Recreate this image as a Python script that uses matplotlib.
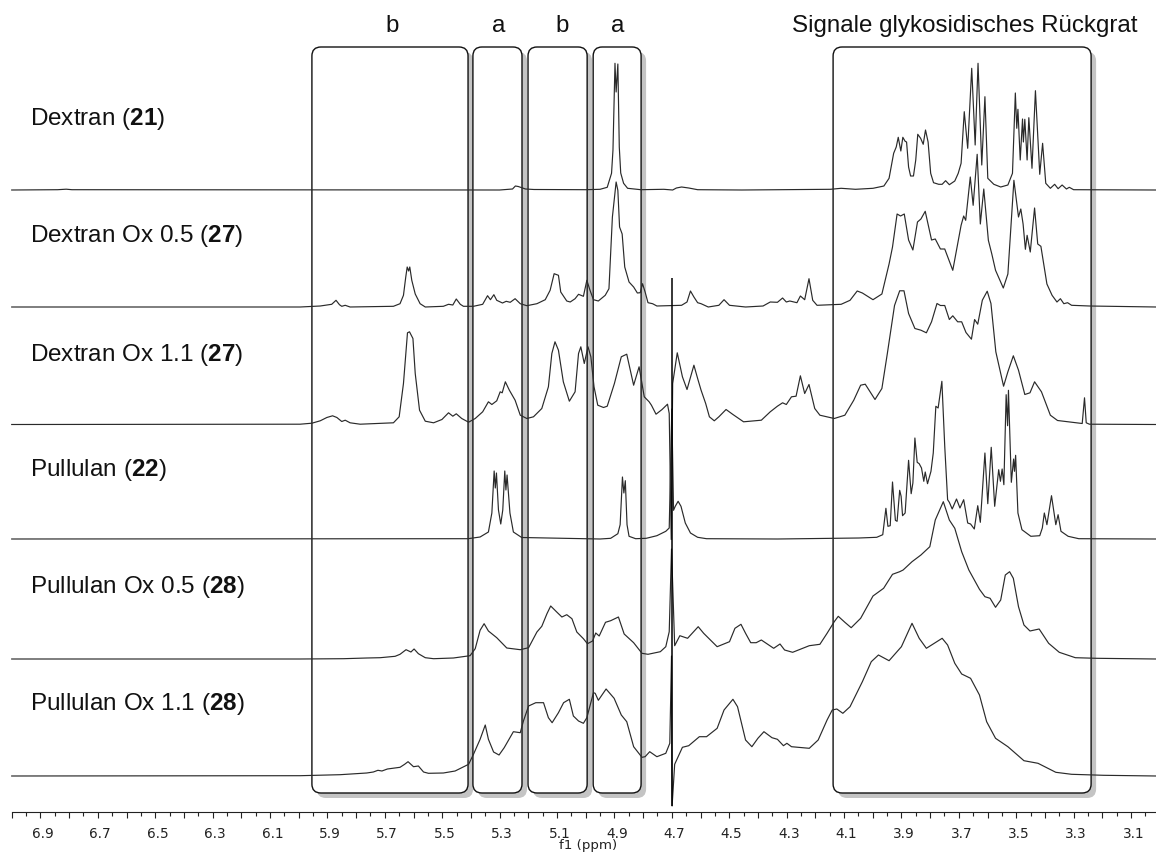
import matplotlib
matplotlib.use('Agg')
import matplotlib.pyplot as plt
from matplotlib.patches import FancyBboxPatch
from matplotlib.transforms import IdentityTransform, ScaledTranslation
from matplotlib.ticker import MultipleLocator
import numpy as np

plt.rcParams['font.family'] = ['Liberation Sans', 'DejaVu Sans']
plt.rcParams['mathtext.fontset'] = 'custom'
plt.rcParams['mathtext.rm'] = 'Liberation Sans'
plt.rcParams['mathtext.bf'] = 'Liberation Sans:bold'
plt.rcParams['mathtext.default'] = 'regular'

# (ppm, intensity)
dextran = [(7.0,0),(6.84,.3),(6.81,.8),(6.79,.3),(5.30,0),(5.255,1),(5.245,4),(5.235,3.5),(5.225,2.5),(5.21,1),(5.18,.5),(5.0,.3),
    (4.950,.7),(4.925,2.7),(4.910,16.7),(4.905,40),(4.898,126.7),(4.894,98),(4.888,126),(4.883,43),(4.878,17),(4.868,6.7),(4.854,1.7),
    (4.808,.3),(4.728,.7),(4.697,0),(4.684,2),(4.666,3),(4.641,2),(4.610,.3),(4.456,0),(4.147,.7),(4.11,1.7),(4.06,.7),(3.999,1.7),
    (3.961,4),(3.943,11.7),(3.927,36.7),(3.918,43),(3.911,52.7),(3.902,39),(3.895,52.7),(3.887,48.7),(3.882,48),(3.875,23),(3.868,14),
    (3.858,14),(3.850,30),(3.843,55.7),(3.833,51.7),(3.824,45.7),(3.816,60),(3.807,48),(3.798,16.7),(3.788,7.3),(3.770,5.7),(3.758,5.7),
    (3.746,9.3),(3.733,5.3),(3.714,9),(3.702,16.7),(3.692,26.7),(3.681,78.3),(3.669,41.7),(3.655,121.7),(3.643,45),(3.633,126.7),
    (3.620,25),(3.609,93.3),(3.599,11.7),(3.578,5.7),(3.554,3),(3.529,5),(3.513,16.7),(3.503,97),(3.498,61.7),(3.494,80.7),(3.486,30),
    (3.478,71),(3.475,48),(3.470,70.7),(3.462,30),(3.456,72.3),(3.445,21.7),(3.433,99.3),(3.418,15.7),(3.408,46.7),(3.397,6.7),
    (3.381,1.7),(3.366,5.7),(3.354,1.3),(3.340,5),(3.325,1),(3.315,2.7),(3.300,.3),(3.012,0)]

dextran_ox05 = [(7.0,0),(5.995,0),(5.925,1),(5.885,2.7),(5.870,6.7),(5.858,2.3),(5.850,.7),(5.838,1.7),(5.821,0),(5.670,.7),(5.647,3.3),
    (5.635,11.7),(5.627,30),(5.622,40),(5.617,36),(5.613,40),(5.606,26.7),(5.594,13),(5.577,3.3),(5.559,0),(5.496,.7),(5.478,2.7),
    (5.463,2),(5.451,8),(5.437,2.7),(5.426,.7),(5.391,.7),(5.359,2.7),(5.342,11.3),(5.332,7.3),(5.320,12.3),(5.310,6.7),(5.290,4),
    (5.277,5.7),(5.263,4.7),(5.246,8.3),(5.228,3.3),(5.205,1.3),(5.170,3.3),(5.141,7.3),(5.124,16.7),(5.110,33.3),(5.095,31.7),
    (5.087,15),(5.066,6),(5.054,5),(5.037,8.3),(5.025,12.7),(5.008,10.7),(4.996,26.7),(4.985,16.7),(4.973,7.3),(4.956,6),(4.932,11.7),
    (4.919,18.3),(4.907,90),(4.894,125),(4.888,116.7),(4.882,80),(4.873,73),(4.864,40),(4.849,25),(4.833,20),(4.820,14),(4.810,14.3),
    (4.802,23.3),(4.793,15),(4.783,4.3),(4.767,3.3),(4.752,1),(4.666,1.7),(4.647,5),(4.635,16),(4.623,10),(4.610,4.3),(4.598,3.3),
    (4.573,0),(4.536,1.7),(4.518,7.3),(4.499,1.7),(4.443,0),(4.382,1),(4.357,5),(4.332,4.7),(4.314,9),(4.301,5),(4.289,6),(4.264,4.3),
    (4.252,11),(4.237,7.3),(4.222,28.3),(4.209,6.7),(4.194,1.7),(4.110,2.7),(4.079,6.7),(4.054,16),(4.036,14),(3.999,7.3),(3.968,13),
    (3.943,43),(3.931,60),(3.915,93),(3.903,91),(3.890,93),(3.875,67),(3.860,57),(3.844,85),(3.832,88),(3.817,95.7),(3.795,67),
    (3.782,68),(3.764,58),(3.749,58),(3.721,36.7),(3.692,81.7),(3.683,91),(3.676,86.7),(3.660,130),(3.650,101.7),(3.636,152.7),
    (3.625,83),(3.613,118),(3.597,66.7),(3.585,53),(3.572,36.7),(3.545,19),(3.529,33),(3.508,126.7),(3.502,113),(3.492,90),(3.484,98),
    (3.476,83),(3.468,57.7),(3.462,71.7),(3.451,55),(3.436,99),(3.425,63),(3.414,60.7),(3.393,23),(3.375,11.7),(3.358,5),(3.346,8.3),
    (3.334,3.3),(3.321,4.3),(3.307,1.7),(3.245,1),(3.012,0)]

dextran_ox11 = [(7.0,0),(5.995,.3),(5.954,1.3),(5.925,3.7),(5.902,7),(5.882,8.7),(5.867,7),(5.850,3),(5.838,4.3),(5.821,1.7),(5.786,.3),
    (5.670,1.7),(5.650,7.7),(5.635,41),(5.621,91.7),(5.614,92.7),(5.602,86),(5.594,51),(5.579,14.3),(5.559,3.3),(5.530,1.7),(5.501,5),
    (5.478,11.7),(5.463,8.3),(5.451,10.7),(5.432,6),(5.408,2.3),(5.385,6),(5.359,12.7),(5.339,22.7),(5.327,20),(5.310,23.7),(5.298,32.7),
    (5.291,31.7),(5.280,42.7),(5.266,34.3),(5.246,24.3),(5.228,9.3),(5.205,6),(5.182,7.7),(5.153,16),(5.130,37.7),(5.118,71),(5.107,82.7),
    (5.095,74.3),(5.078,42.7),(5.057,23.3),(5.037,32.7),(5.025,71),(5.017,77.7),(5.005,61),(4.992,77.7),(4.982,67.7),(4.971,37.7),
    (4.958,19.3),(4.938,17),(4.925,18.3),(4.900,41),(4.876,67.7),(4.857,70.3),(4.833,39.3),(4.814,57.7),(4.796,27.7),(4.779,22.7),
    (4.771,19.3),(4.755,10.3),(4.734,15),(4.715,20.3),(4.709,11),(4.702,-115),(4.697,41),(4.681,71.7),(4.663,47.7),(4.647,35),(4.623,59.3),
    (4.610,46),(4.598,34.3),(4.582,21),(4.569,7.7),(4.552,3.7),(4.536,7.7),(4.511,15),(4.487,10),(4.450,2.7),(4.388,4.3),(4.357,12.7),
    (4.332,18.3),(4.314,21.7),(4.301,20),(4.283,27.7),(4.267,28.3),(4.252,48.7),(4.237,31),(4.222,40),(4.202,16),(4.184,9.3),(4.134,6),
    (4.097,9.3),(4.066,24.3),(4.042,39.3),(4.026,40.3),(3.992,25),(3.968,36),(3.949,71),(3.924,119),(3.906,133.7),(3.891,133.7),(3.875,111),
    (3.853,96),(3.832,94.3),(3.813,91.7),(3.795,102.7),(3.776,121),(3.764,119),(3.749,119),(3.733,105),(3.721,108.7),(3.704,102.7),
    (3.690,102.7),(3.675,92),(3.656,85.3),(3.645,105),(3.634,100.3),(3.618,124.3),(3.601,133.3),(3.588,121),(3.571,72.7),(3.544,38.3),
    (3.529,52.7),(3.510,68.7),(3.492,54.3),(3.470,30),(3.452,31.7),(3.436,42.7),(3.412,32.7),(3.381,9.3),(3.356,4),(3.270,1),(3.262,26.7),
    (3.256,1.7),(3.245,.3),(3.012,0)]

pullulan = [(7.0,0),(5.41,.3),(5.368,2),(5.339,7),(5.327,26),(5.319,68),(5.315,51),(5.311,66),(5.304,29),(5.296,15),(5.289,29),(5.282,68),
    (5.278,49),(5.274,64),(5.264,26),(5.252,7),(5.223,1.5),(4.950,0),(4.913,.7),(4.888,5.3),(4.880,14.3),(4.872,62),(4.867,46),(4.862,58.3),
    (4.856,14.3),(4.849,2.7),(4.826,.3),(4.789,.7),(4.752,3.3),(4.721,7.7),(4.709,11),(4.700,130),(4.694,28.7),(4.688,32.7),(4.678,37.7),
    (4.668,32.7),(4.653,16),(4.635,6),(4.610,1.7),(4.579,.3),(4.332,0),(4.048,1),(3.986,1.7),(3.965,4.3),(3.954,30.7),(3.947,12.7),
    (3.939,13.3),(3.931,57),(3.921,18.7),(3.915,17.7),(3.906,48.7),(3.901,42.7),(3.896,23.3),(3.887,26),(3.875,78.7),(3.866,45.3),(3.860,56),
    (3.853,101),(3.845,76.7),(3.838,75.3),(3.830,71),(3.822,57.7),(3.817,67),(3.809,55.3),(3.797,67.7),(3.789,86),(3.780,132.7),(3.772,131),
    (3.759,157.7),(3.749,92.7),(3.739,39.3),(3.733,36.7),(3.723,30),(3.708,40),(3.696,31),(3.683,39.3),(3.669,16),(3.659,15),(3.646,10),
    (3.634,33.3),(3.625,16.7),(3.609,86),(3.599,35.3),(3.587,91.7),(3.575,32.7),(3.561,69.3),(3.555,57.7),(3.549,70),(3.543,54.3),(3.535,144.3),
    (3.530,113.3),(3.527,148.7),(3.517,56.7),(3.509,80),(3.506,67.7),(3.502,83.7),(3.494,26),(3.480,9.3),(3.449,2.7),(3.418,3.3),(3.409,11),
    (3.402,26),(3.393,14.3),(3.377,43.3),(3.362,14.3),(3.354,24.3),(3.344,7.7),(3.319,2.7),(3.282,.3),(3.012,0)]

pullulan_ox05 = [(7.0,0),(5.995,0),(5.844,.3),(5.763,1),(5.716,1.3),(5.664,2.7),(5.647,4.7),(5.626,9.3),(5.609,7),(5.598,10),(5.583,5.3),
    (5.559,1.3),(5.530,.3),(5.461,1),(5.403,3.3),(5.385,10.3),(5.368,28.7),(5.354,35.3),(5.339,28),(5.310,21.3),(5.275,11),(5.228,9.3),
    (5.199,11.3),(5.170,27),(5.153,32.7),(5.135,45.3),(5.122,53),(5.101,47),(5.083,42),(5.066,44.3),(5.048,40.3),(5.031,27),(5.008,20.3),
    (4.994,15.3),(4.976,18),(4.965,26),(4.953,23),(4.931,36.7),(4.913,38.3),(4.886,42),(4.866,25),(4.833,16.3),(4.804,5.7),(4.783,4.7),
    (4.740,7.3),(4.721,12.3),(4.709,27.3),(4.701,110),(4.690,13.3),(4.672,23.3),(4.645,20.7),(4.608,32.3),(4.589,25.7),(4.542,12.3),
    (4.499,17.3),(4.480,30.7),(4.459,34.7),(4.443,25.7),(4.425,16.3),(4.406,16.3),(4.388,19),(4.345,10.7),(4.323,15),(4.307,9),(4.279,6.7),
    (4.221,13.3),(4.184,14.7),(4.159,25.7),(4.134,37.3),(4.120,42.7),(4.097,36.7),(4.075,31.3),(4.042,40.7),(3.999,63),(3.962,70.7),
    (3.931,84.7),(3.906,87.3),(3.894,89),(3.863,97.3),(3.832,104),(3.801,112.3),(3.782,139),(3.754,157.3),(3.733,139),(3.714,130.7),
    (3.690,107.3),(3.665,89),(3.628,69.7),(3.609,62.3),(3.591,60.7),(3.572,51.7),(3.554,59),(3.538,84),(3.523,87.3),(3.510,80.7),(3.492,52.3),
    (3.473,34),(3.452,28),(3.420,30),(3.387,15.7),(3.350,6.7),(3.294,1.3),(3.220,.7),(3.012,0)]

pullulan_ox11 = [(7.0,0),(5.995,.3),(5.856,1.3),(5.763,3),(5.740,4),(5.724,5.7),(5.710,5),(5.691,7),(5.647,8.7),(5.631,11.7),(5.619,14.3),
    (5.600,9.3),(5.583,10),(5.565,4),(5.548,2.7),(5.496,3),(5.455,5),(5.408,11.7),(5.391,21.7),(5.368,36.7),(5.350,51),(5.339,36.7),(5.321,24),
    (5.302,21),(5.284,28.3),(5.252,44.3),(5.228,43.3),(5.217,55),(5.199,70),(5.174,73.3),(5.147,73.3),(5.130,58.3),(5.117,53.3),(5.095,63.3),
    (5.077,73.3),(5.057,76.7),(5.043,60),(5.025,55),(5.008,52.7),(4.996,58.3),(4.973,83.3),(4.967,82.7),(4.956,75.7),(4.929,87),(4.901,77.7),
    (4.876,61),(4.857,54.3),(4.833,29.3),(4.804,18.7),(4.793,19.3),(4.777,24.3),(4.752,19.3),(4.721,22.7),(4.707,32.7),(4.701,120),(4.699,-30),
    (4.690,11.7),(4.663,28.7),(4.641,30.3),(4.604,39.3),(4.579,39.3),(4.542,47.7),(4.518,66),(4.487,76.7),(4.471,69.3),(4.443,36),(4.421,29.3),
    (4.400,37.7),(4.379,44.3),(4.351,38.3),(4.332,36.7),(4.311,30.3),(4.299,32.7),(4.283,29.3),(4.221,27.7),(4.190,36),(4.159,56),(4.141,66),
    (4.125,67),(4.104,62.7),(4.079,69.3),(4.036,94.3),(4.005,114.3),(3.980,121),(3.943,115.3),(3.900,129.3),(3.863,152.7),(3.838,137.7),
    (3.813,127.7),(3.758,137.7),(3.739,131),(3.714,112.7),(3.690,102),(3.659,97.7),(3.628,81),(3.603,54.3),(3.572,37.7),(3.529,29.3),
    (3.473,15.3),(3.424,12.7),(3.362,3.7),(3.307,1.7),(3.195,.7),(3.012,0)]

spectra = [dextran, dextran_ox05, dextran_ox11, pullulan, pullulan_ox05, pullulan_ox11]
baselines = [622, 505, 387.5, 273, 153, 36]

sample_names = ['Dextran ($\\mathbf{21}$)', 'Dextran Ox 0.5 ($\\mathbf{27}$)', 'Dextran Ox 1.1 ($\\mathbf{27}$)',
                'Pullulan ($\\mathbf{22}$)', 'Pullulan Ox 0.5 ($\\mathbf{28}$)', 'Pullulan Ox 1.1 ($\\mathbf{28}$)']
name_y = [119, 236, 355, 470, 587, 704]

regions = [(5.954, 5.410), (5.393, 5.222), (5.201, 4.995), (4.974, 4.807), (4.138, 3.239)]
region_labels = ['b', 'a', 'b', 'a', 'Signale glykosidisches Rückgrat']
region_label_x = [392, 499, 562, 618, 965]

W, H = 1156, 853
fig = plt.figure(figsize=(W / 100, H / 100), dpi=100)
ax = fig.add_axes([0, 40 / H, 1, 812 / H])
ax.set_xlim(7.0408, 3.0129)
ax.set_ylim(0, 812)
ax.patch.set_visible(False)

for s in ['top', 'left', 'right']:
    ax.spines[s].set_visible(False)
ax.spines['bottom'].set_bounds(7.0, 3.0129)
ax.spines['bottom'].set_linewidth(0.8)
ax.spines['bottom'].set_color('#222222')
ax.set_yticks([])

ax.xaxis.set_major_locator(MultipleLocator(0.1))
ax.xaxis.set_minor_locator(MultipleLocator(0.05))
major = ax.get_xticks()
major = major[(major <= 7.001) & (major >= 3.0129)]
ax.set_xticks(major)
ax.set_xticklabels(['%.1f' % m if int(round(m * 10)) % 2 == 1 else '' for m in major],
                   family='DejaVu Sans', fontsize=9.8, color='#222222')
ax.tick_params(axis='x', which='major', length=4.4, width=0.8, pad=5.5, color='#222222')
ax.tick_params(axis='x', which='minor', length=2.6, width=0.8, color='#222222')
shift = ScaledTranslation(2.5 / 100, 0, fig.dpi_scale_trans)
for lab in ax.get_xticklabels():
    lab.set_transform(lab.get_transform() + shift)

# boxes with their shadows, in screen pixels so the corners stay round
box_top, box_bottom = 765, 19
for left, right in regions:
    (x0, y0), (x1, y1) = ax.transData.transform([(left, box_bottom), (right, box_top)])
    ax.add_patch(FancyBboxPatch((x0 + 5, y0 - 5), x1 - x0, y1 - y0, boxstyle='round,pad=0,rounding_size=9',
                                transform=IdentityTransform(), fc='#c4c4c4', ec='none', zorder=1, clip_on=False))
for left, right in regions:
    (x0, y0), (x1, y1) = ax.transData.transform([(left, box_bottom), (right, box_top)])
    ax.add_patch(FancyBboxPatch((x0, y0), x1 - x0, y1 - y0, boxstyle='round,pad=0,rounding_size=9',
                                transform=IdentityTransform(), fc='white', ec='#111111', lw=1.0, zorder=2, clip_on=False))

for sp, base in zip(spectra, baselines):
    pts = np.array(sp)
    ax.plot(pts[:, 0], pts[:, 1] + base, color='#2a2a2a', lw=0.85, solid_joinstyle='round', zorder=3, clip_on=False)

# solvent line
ax.vlines(4.7, 6, 534, color='black', lw=1.1, zorder=4)

for name, y in zip(sample_names, name_y):
    fig.text(30 / W, 1 - y / H, name, fontsize=17.5, va='center', ha='left', color='#111111')
for lab, x in zip(region_labels, region_label_x):
    fig.text(x / W, 1 - 26 / H, lab, fontsize=17.4, va='center', ha='center', color='#111111')
fig.text(588 / W, 1 - 846 / H, 'f1 (ppm)', fontsize=9.6, family='DejaVu Sans', va='center', ha='center', color='#222222')

fig.savefig('out.png', dpi=100)
